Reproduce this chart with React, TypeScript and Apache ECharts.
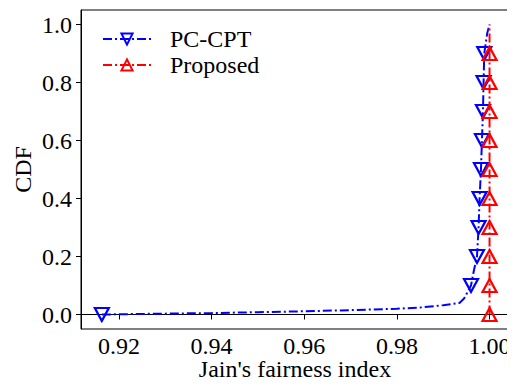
import React, { useEffect, useRef } from "react";
import * as echarts from "echarts";

const pcCptX = [0.9163, 0.93, 0.94, 0.95, 0.96, 0.97, 0.98, 0.985, 0.99, 0.9935, 0.9945, 0.996, 0.9966, 0.99729, 0.99763, 0.99785, 0.99815, 0.99836, 0.99858, 0.99871, 0.99886, 0.9995, 1.0];
const pcCptY = [0.0, 0.003, 0.005, 0.008, 0.011, 0.015, 0.02, 0.024, 0.032, 0.04, 0.055, 0.1, 0.15, 0.2, 0.3, 0.4, 0.5, 0.6, 0.7, 0.8, 0.9, 0.97, 1.0];
const pcCptMarked = [true, false, false, false, false, false, false, false, false, false, false, true, false, true, true, true, true, true, true, true, true, false, false];

const proposedX = [1.0, 1.0, 1.0, 1.0, 1.0, 1.0, 1.0, 1.0, 1.0, 1.0, 1.0];
const proposedY = [0.0, 0.1, 0.2, 0.3, 0.4, 0.5, 0.6, 0.7, 0.8, 0.9, 1.0];
const proposedMarked = [true, true, true, true, true, true, true, true, true, true, false];

const xTicks = [0.92, 0.94, 0.96, 0.98, 1.0];
const yTicks = [0.0, 0.2, 0.4, 0.6, 0.8, 1.0];

const FONT = "Liberation Serif";

function buildData(xs: number[], ys: number[], marked: boolean[]) {
  return xs.map((x, i) =>
    marked[i] ? { value: [x, ys[i]] } : { value: [x, ys[i]], symbol: "none" }
  );
}

export default function App() {
  const ref = useRef<HTMLDivElement>(null);
  useEffect(() => {
    if (!ref.current) return;
    const chart = echarts.init(ref.current, null, { renderer: "svg" });
    const dash = [9, 3, 2, 3];
    chart.setOption({
      animation: false,
      textStyle: { fontFamily: FONT, fontSize: 24, color: "#000" },
      grid: {
        left: 81, right: 6, top: 10, bottom: 58,
        outerBoundsMode: "none",
        containLabel: false,
        show: true, borderColor: "#000", borderWidth: 1, backgroundColor: "transparent",
      },
      legend: {
        orient: "vertical", left: 97, top: 22, itemWidth: 48, itemHeight: 14, itemGap: 2,
        data: ["PC-CPT", "Proposed"],
        textStyle: { fontFamily: FONT, fontSize: 24, color: "#000", padding: [0, 0, 0, 14] },
      },
      xAxis: {
        type: "value", min: 0.9118, max: 1.0042,
        name: "Jain's fairness index", nameLocation: "middle", nameGap: 28,
        nameMoveOverlap: false,
        nameTextStyle: { fontFamily: FONT, fontSize: 24, color: "#000" },
        splitLine: { show: false },
        axisLine: { show: true, lineStyle: { color: "#000", width: 1 } },
        axisTick: { show: true, inside: false, length: 5, customValues: xTicks, lineStyle: { color: "#000" } },
        axisLabel: {
          customValues: xTicks, formatter: (v: number) => v.toFixed(2),
          fontFamily: FONT, fontSize: 24, color: "#000", margin: 5,
        },
      },
      yAxis: {
        type: "value", min: -0.05, max: 1.05,
        name: "CDF", nameLocation: "middle", nameGap: 46,
        nameMoveOverlap: false,
        nameTextStyle: { fontFamily: FONT, fontSize: 24, color: "#000" },
        splitLine: { show: false },
        axisLine: { show: true, lineStyle: { color: "#000", width: 1 } },
        axisTick: { show: true, inside: false, length: 5, customValues: yTicks, lineStyle: { color: "#000" } },
        axisLabel: {
          customValues: yTicks, formatter: (v: number) => v.toFixed(1),
          fontFamily: FONT, fontSize: 24, color: "#000", margin: 9,
        },
      },
      series: [
        {
          name: "PC-CPT", type: "line", data: buildData(pcCptX, pcCptY, pcCptMarked),
          symbol: "triangle", symbolRotate: 180, symbolSize: [14, 13], showAllSymbol: true,
          lineStyle: { color: "#0000ff", width: 2, type: dash },
          itemStyle: { color: "none", borderColor: "#0000ff", borderWidth: 2.2 }, z: 2,
        },
        {
          name: "Proposed", type: "line", data: buildData(proposedX, proposedY, proposedMarked),
          symbol: "triangle", symbolSize: [14, 13], showAllSymbol: true,
          lineStyle: { color: "#ff0000", width: 2, type: dash },
          itemStyle: { color: "none", borderColor: "#ff0000", borderWidth: 2.2 }, z: 3,
        },
      ],
    });
    return () => chart.dispose();
  }, []);
  return <div ref={ref} style={{ width: 515, height: 387, margin: -8 }} />;
}
